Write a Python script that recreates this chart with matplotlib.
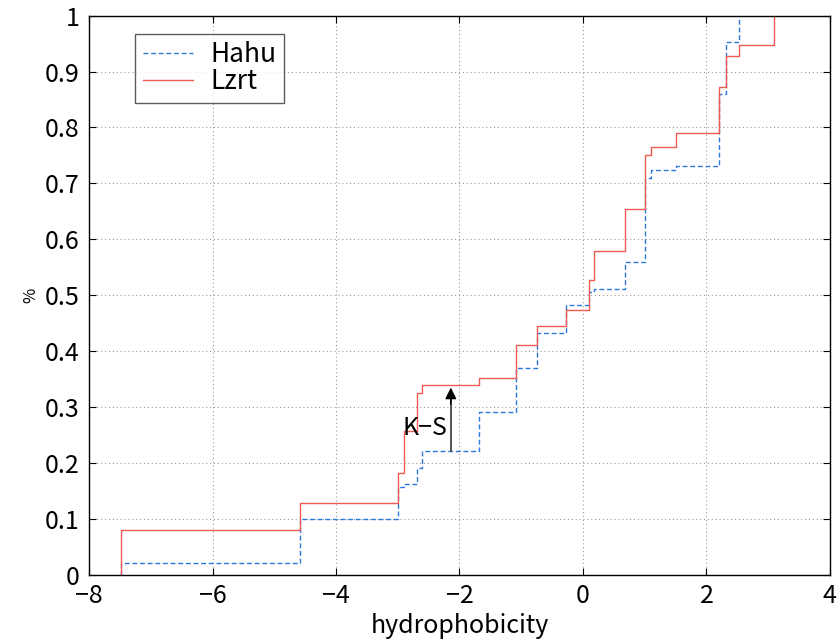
import numpy as np
import matplotlib
matplotlib.use("Agg")
import matplotlib.pyplot as plt

plt.rcParams['font.family'] = ['Noto Sans CJK JP', 'DejaVu Sans']

# empirical CDF steps: x where each step occurs, level after it
hahu_x = [-7.49, -4.59, -2.99, -2.90, -2.69, -2.60, -1.68, -1.09, -0.74, -0.28,
          0.09, 0.18, 0.68, 1.01, 1.11, 1.50, 2.21, 2.31, 2.52]
hahu_y = [0.022, 0.100, 0.157, 0.163, 0.192, 0.222, 0.292, 0.370, 0.433, 0.483,
          0.505, 0.512, 0.560, 0.710, 0.724, 0.732, 0.859, 0.952, 1.0]

lzrt_x = [-7.49, -4.59, -2.99, -2.90, -2.69, -2.60, -1.68, -1.09, -0.74, -0.28,
          0.09, 0.18, 0.68, 1.01, 1.11, 1.50, 2.21, 2.31, 2.52, 3.10]
lzrt_y = [0.081, 0.129, 0.183, 0.257, 0.325, 0.340, 0.352, 0.412, 0.446, 0.474,
          0.527, 0.580, 0.655, 0.750, 0.765, 0.790, 0.872, 0.927, 0.948, 1.0]

ks_x = -2.14
xticks = [-8, -6, -4, -2, 0, 2, 4]
yticks = np.round(np.arange(0, 1.01, 0.1), 1)
yticklabels = ['0'] + ['%.1f' % v for v in yticks[1:-1]] + ['1']


def level_at(xs, ys, x):
    i = np.searchsorted(xs, x, side='right') - 1
    return ys[i] if i >= 0 else 0.0


fig = plt.figure(figsize=(8.4, 6.4), dpi=100)
ax = fig.add_axes([0.106, 0.1016, 0.882, 0.874])

ax.step([hahu_x[0]] + hahu_x, [0] + hahu_y, where='post',
        color='#2b78e4', linestyle=(0, (3.5, 2)), linewidth=1.0, label='Hahu')
ax.step([lzrt_x[0]] + lzrt_x, [0] + lzrt_y, where='post',
        color='#f05a52', linewidth=1.0, label='Lzrt')

# K-S distance arrow: grey shaft, black head
y0 = level_at(hahu_x, hahu_y, ks_x)
y1 = level_at(lzrt_x, lzrt_y, ks_x) - 0.005
ax.plot([ks_x, ks_x], [y0, y1 - 0.02], color='#555555', linewidth=1.4)
ax.annotate('', xy=(ks_x, y1), xytext=(ks_x, y1 - 0.03),
            arrowprops=dict(arrowstyle='-|>', color='black', lw=1.0,
                            mutation_scale=17, shrinkA=0, shrinkB=0))
ax.text(ks_x - 0.05, (y0 + y1) / 2 - 0.016, 'K\u2212S', ha='right', va='center',
        fontsize=18)

ax.set_xlim(-8, 4)
ax.set_ylim(0, 1)
ax.set_xticks(xticks)
ax.set_yticks(yticks)
ax.set_yticklabels(yticklabels)
ax.tick_params(direction='in', top=True, right=True, labelsize=18, length=5,
               width=0.8)
ax.tick_params(axis='x', pad=6)
ax.tick_params(axis='y', pad=7)
ax.grid(True, linestyle=(0, (1, 2.5)), color='#999999', linewidth=0.8)
for s in ax.spines.values():
    s.set_linewidth(1.0)

ax.set_xlabel('hydrophobicity', fontsize=18, labelpad=3)
ax.set_ylabel('%', fontsize=12, labelpad=4)

leg = ax.legend(loc='upper left', bbox_to_anchor=(0.062, 0.968), fontsize=19,
                frameon=True, fancybox=False, edgecolor='#333333',
                handlelength=1.9, handletextpad=0.65, borderpad=0.3,
                borderaxespad=0, labelspacing=0.0)
leg.get_frame().set_linewidth(1.0)

fig.savefig('out.png', dpi=100)
